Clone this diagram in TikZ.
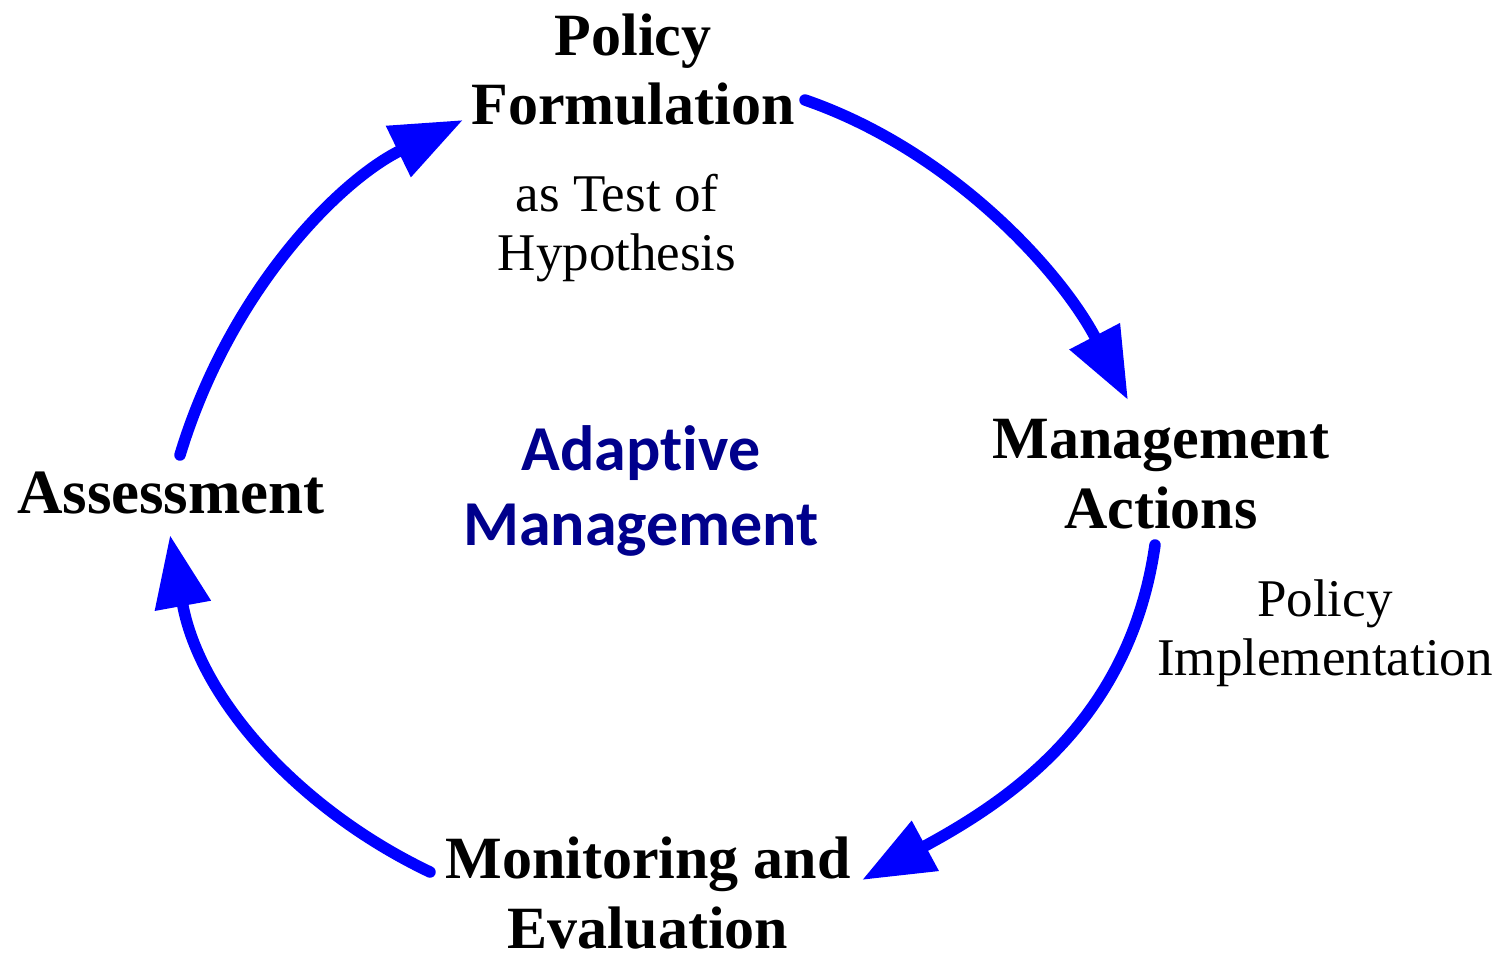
\documentclass[tikz,border=0pt]{standalone}
\usepackage{fontspec}
\setmainfont{Liberation Serif}
\newfontfamily\calfont[Ligatures={NoCommon}]{Carlito}
\usetikzlibrary{arrows.meta}
\definecolor{arrowblue}{RGB}{0,0,255}
\definecolor{navytext}{RGB}{0,0,140}
\tikzset{
  stage/.style={font=\bfseries\fontsize{60}{70}\selectfont, align=center, anchor=base, inner sep=0pt},
  note/.style={font=\fontsize{53}{59}\selectfont, align=center, anchor=base, inner sep=0pt},
  centre/.style={font=\calfont\bfseries\fontsize{64}{75}\selectfont, text=navytext, align=center, anchor=base, inner sep=0pt},
  cyc/.style={draw=arrowblue, line width=11.5pt, line cap=round, -{Triangle[length=72pt,width=54pt]}}
}
\begin{document}
\begin{tikzpicture}[x=1pt,y=-1pt]
\useasboundingbox (0,0) rectangle (1502,955);
\node[stage] (policy) at (633,125) {Policy\\Formulation};
\node[stage] (actions) at (1161,528) {Management\\Actions};
\node[stage] (monitor) at (648,948) {Monitoring and\\Evaluation};
\node[stage, font=\bfseries\fontsize{63}{70}\selectfont] (assess) at (171,513) {Assessment};
\node[note] (test) at (617,270) {as Test of\\Hypothesis};
\node[note] (impl) at (1325,675) {Policy\\Implementation};
\node[centre] (am) at (641,545) {Adaptive\\Management};
\coordinate (a1s) at (180,455);
\coordinate (a1e) at (463,120);
\coordinate (a2s) at (805,100);
\coordinate (a2e) at (1128,400);
\coordinate (a3s) at (1155,545);
\coordinate (a3e) at (862,880);
\coordinate (a4s) at (430,872);
\coordinate (a4e) at (170,535);
\draw[cyc] (a1s) .. controls (230,290) and (340,180) .. (a1e);
\draw[cyc] (a2s) .. controls (950,150) and (1060,270) .. (a2e);
\draw[cyc] (a3s) .. controls (1130,720) and (1010,800) .. (a3e);
\draw[cyc] (a4s) .. controls (300,810) and (200,700) .. (a4e);
\end{tikzpicture}
\end{document}
